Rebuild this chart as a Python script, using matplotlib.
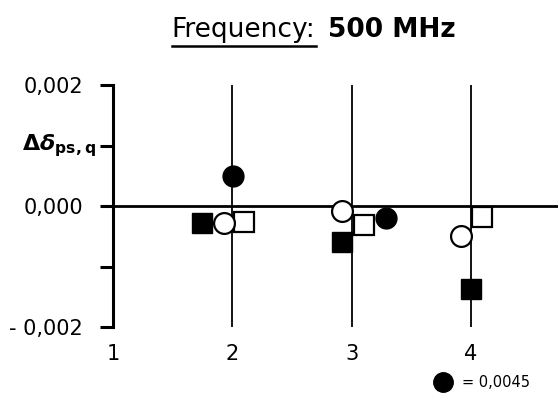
import matplotlib.pyplot as plt
from matplotlib.lines import Line2D
from matplotlib.transforms import blended_transform_factory

# marker positions (side-by-side offsets around 2, 3, 4)
filled_circle_x = [2.01, 3.29, 4.0]
filled_circle_y = [0.0005, -0.0002, 0.0045]
open_circle_x = [1.93, 2.92, 3.92]
open_circle_y = [-0.00028, -0.00008, -0.0005]
filled_square_x = [1.75, 2.92, 4.0]
filled_square_y = [-0.00028, -0.0006, -0.00137]
open_square_x = [2.10, 3.10, 4.09]
open_square_y = [-0.00027, -0.00031, -0.00018]

x_ticks = [1, 2, 3, 4]
y_ticks = [0.002, 0.001, 0.0, -0.001, -0.002]
y_ticklabels = ['0,002', '', '0,000', '', '- 0,002']
offscale_label = '= 0,0045'

plt.rcParams['font.family'] = 'DejaVu Sans'

fig = plt.figure(figsize=(5.58, 3.94), dpi=100)
ax = fig.add_axes([0.2025, 0.170, 0.7975, 0.614])
ax.set_xlim(1, 4.73)
ax.set_ylim(-0.002, 0.002)

for s in ['top', 'right', 'bottom']:
    ax.spines[s].set_visible(False)
ax.spines['left'].set_linewidth(2.2)

ax.set_xticks(x_ticks)
ax.set_xticklabels([str(v) for v in x_ticks], fontsize=15)
ax.tick_params(axis='x', length=0, pad=12)
ax.set_yticks(y_ticks)
ax.set_yticklabels(y_ticklabels, fontsize=15)
ax.tick_params(axis='y', length=9.5, width=2.2, pad=12)

for xv in x_ticks[1:]:
    ax.axvline(xv, color='black', linewidth=1.3, zorder=1)
ax.axhline(0.0, color='black', linewidth=2.0, zorder=1)

ms = 15
ax.plot(filled_square_x, filled_square_y, 's', color='black', markersize=ms, zorder=3)
ax.plot(open_square_x, open_square_y, 's', markerfacecolor='white', markeredgecolor='black',
        markeredgewidth=1.6, markersize=ms, zorder=3)
ax.plot(open_circle_x, open_circle_y, 'o', markerfacecolor='white', markeredgecolor='black',
        markeredgewidth=1.6, markersize=ms, zorder=4)
ax.plot(filled_circle_x, filled_circle_y, 'o', color='black', markersize=ms, zorder=4)

trans = blended_transform_factory(ax.transAxes, ax.transData)
ax.text(-0.204, 0.001, r'$\mathbf{\Delta}\boldsymbol{\delta}_{\mathbf{ps,q}}$', transform=trans,
        fontsize=16, ha='left', va='center')

# off-scale value note
fig.add_artist(Line2D([0.794], [0.030], marker='o', color='black', markersize=14,
                      transform=fig.transFigure))
fig.text(0.828, 0.030, offscale_label, fontsize=10.5, ha='left', va='center')

# title with underlined first part
t1 = fig.text(0.308, 0.905, 'Frequency:', fontsize=19, ha='left', va='baseline')
fig.canvas.draw()
bb = t1.get_window_extent(fig.canvas.get_renderer()).transformed(fig.transFigure.inverted())
fig.text(bb.x1 + 0.022, 0.905, '500 MHz', fontsize=19, fontweight='bold',
         ha='left', va='baseline')
fig.add_artist(Line2D([bb.x0, bb.x1], [bb.y0 - 0.006, bb.y0 - 0.006],
                      transform=fig.transFigure, color='black', linewidth=1.8))

fig.savefig('out.png', dpi=100)
